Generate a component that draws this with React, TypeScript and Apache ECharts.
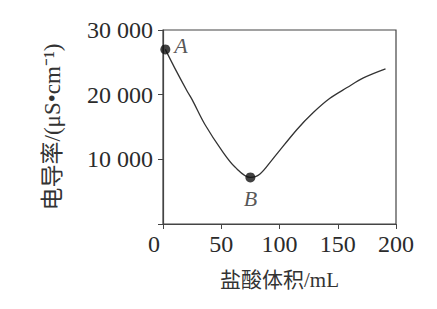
import React, { useEffect, useRef } from "react";
import * as echarts from "echarts";

const volume = [2, 10, 21, 25, 36, 51, 62, 75, 83, 94, 115, 129, 143, 158, 172, 191];
const conductivity = [27000, 24150, 20460, 19230, 15380, 11230, 8770, 7200, 7690, 10000, 14615, 17230, 19400, 21100, 22600, 24000];
const pointNames = ["A", "B"];
const pointX = [2, 75];
const pointY = [27000, 7200];
const xTicks = [0, 50, 100, 150, 200];
const yTicks = [0, 10000, 20000, 30000];

const FONT = "'Liberation Serif', 'Times New Roman', 'Noto Sans CJK SC', serif";
const INK = "#2b2b2b";

export default function App() {
  const ref = useRef<HTMLDivElement>(null);
  useEffect(() => {
    if (!ref.current) return;
    const chart = echarts.init(ref.current, null, { renderer: "svg" });
    chart.setOption({
      animation: false,
      backgroundColor: "#fff",
      grid: {
        left: 163,
        right: 41,
        top: 30,
        bottom: 85,
        show: true,
        borderColor: "#444",
        borderWidth: 1.2,
        backgroundColor: "transparent",
      },
      xAxis: {
        type: "value",
        min: xTicks[0],
        max: xTicks[xTicks.length - 1],
        interval: 50,
        name: "盐酸体积/mL",
        nameLocation: "middle",
        nameGap: 45,
        nameTextStyle: { fontFamily: FONT, fontSize: 21, color: "#333" },
        axisLine: { show: true, lineStyle: { color: "#444", width: 1.2 } },
        axisTick: { show: true, inside: false, length: 5, lineStyle: { color: "#444" } },
        splitLine: { show: false },
        axisLabel: {
          fontFamily: FONT,
          fontSize: 24,
          color: INK,
          margin: 8,
          formatter: (v: number) => (v === 0 ? "{z|0}" : String(v)),
          rich: { z: { fontFamily: FONT, fontSize: 24, color: INK, padding: [0, 18, 0, 0] } },
        },
      },
      yAxis: {
        type: "value",
        min: yTicks[0],
        max: yTicks[yTicks.length - 1],
        interval: 10000,
        name: "电导率/(μS•cm⁻¹)",
        nameLocation: "middle",
        nameGap: 99,
        nameTextStyle: { fontFamily: FONT, fontSize: 23, color: "#333" },
        axisLine: { show: true, lineStyle: { color: "#444", width: 1.2 } },
        axisTick: { show: true, inside: false, length: 5, lineStyle: { color: "#444" } },
        splitLine: { show: false },
        axisLabel: {
          fontFamily: FONT,
          fontSize: 24,
          color: INK,
          margin: 10,
          formatter: (v: number) =>
            v === 0 ? "" : String(v).replace(/\B(?=(\d{3})+(?!\d))/g, " "),
        },
      },
      series: [
        {
          type: "line",
          data: volume.map((x, i) => [x, conductivity[i]]),
          smooth: 0.35,
          showSymbol: false,
          lineStyle: { color: "#333", width: 1.3 },
          z: 2,
        },
        {
          type: "scatter",
          data: pointNames.map((n, i) => ({
            name: n,
            value: [pointX[i], pointY[i]],
            label:
              i === 0
                ? { position: "right", distance: 4, offset: [0, -4] }
                : { position: "bottom", distance: 5 },
          })),
          symbolSize: 10,
          itemStyle: { color: "#111" },
          z: 3,
          label: {
            show: true,
            formatter: (p: any) => p.name,
            fontFamily: FONT,
            fontStyle: "italic",
            fontSize: 22,
            color: INK,
          },
        },
      ],
    });
    return () => chart.dispose();
  }, []);
  return <div ref={ref} style={{ width: 437, height: 309, position: "absolute", left: 0, top: 0 }} />;
}
